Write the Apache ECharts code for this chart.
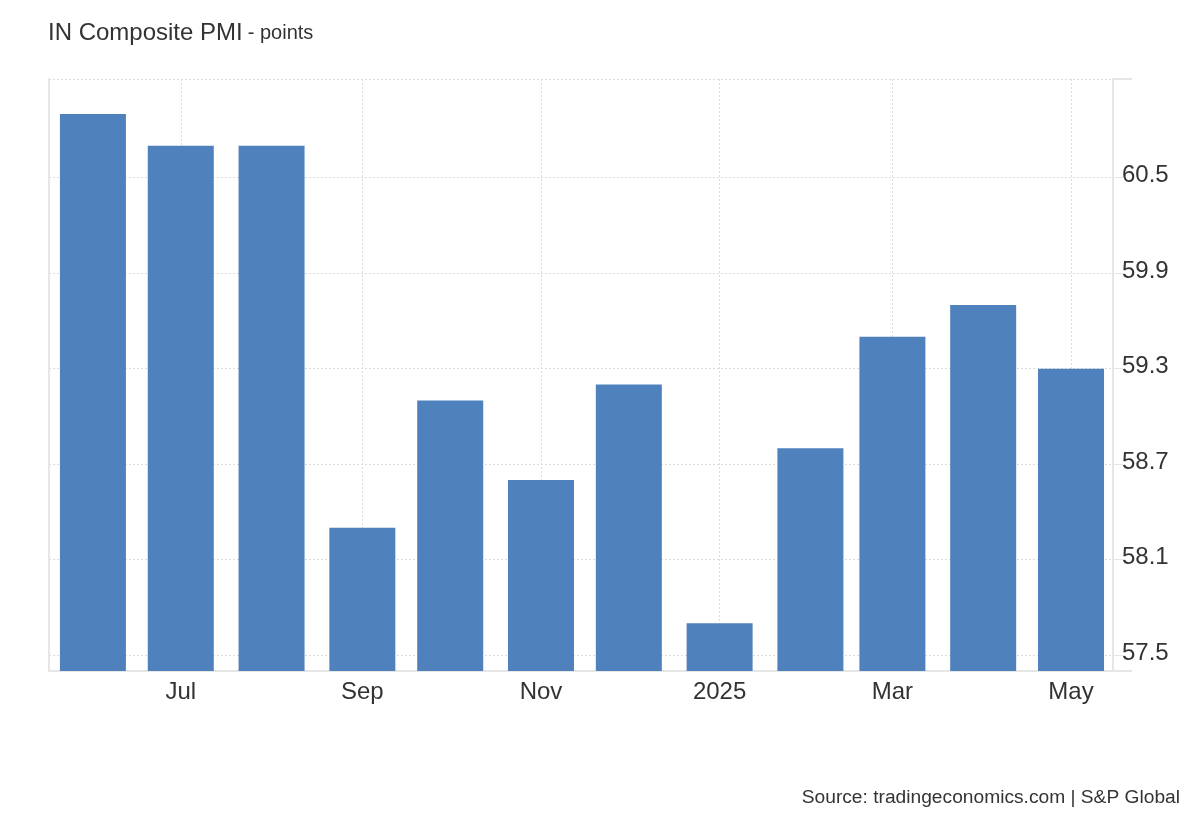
<!DOCTYPE html>
<html>
<head>
<meta charset="utf-8">
<script src="https://cdn.jsdelivr.net/npm/echarts@6/dist/echarts.min.js"></script>
<style>
html,body{margin:0;padding:0;background:#fff;}
#chart{width:1200px;height:820px;}
</style>
</head>
<body>
<div id="chart"></div>
<script>
// ---- data ----
var months = ['2024-06','2024-07','2024-08','2024-09','2024-10','2024-11','2024-12','2025-01','2025-02','2025-03','2025-04','2025-05'];
var pmiValues = [60.9, 60.7, 60.7, 58.3, 59.1, 58.6, 59.2, 57.7, 58.8, 59.5, 59.7, 59.3];
var xTickMonths = ['2024-07','2024-09','2024-11','2025-01','2025-03','2025-05'];
var xTickLabels = ['Jul','Sep','Nov','2025','Mar','May'];
var yTickLabels = [57.5, 58.1, 58.7, 59.3, 59.9, 60.5];
var yMin = 57.4, yMax = 61.12;
var yGridValues = yTickLabels.concat([yMax]);

function monthTs(s){ var p = s.split('-'); return Date.UTC(+p[0], +p[1]-1, 1); }
var xTickTs = xTickMonths.map(monthTs);
var labelByTs = {};
xTickTs.forEach(function(t,i){ labelByTs[t] = xTickLabels[i]; });
var barData = months.map(function(m,i){ return [monthTs(m), pmiValues[i]]; });

var xMin = Date.UTC(2024, 4, 17);
var xMax = Date.UTC(2025, 4, 15, 8);

var chart = echarts.init(document.getElementById('chart'), null, {renderer:'canvas'});
var FONT = 'Liberation Sans, Arial, sans-serif';
chart.setOption({
  animation: false,
  backgroundColor: '#ffffff',
  textStyle: { fontFamily: FONT },
  title: {
    left: 48, top: 21, padding: 0,
    text: '{a|IN Composite PMI} {b|- points}',
    textStyle: {
      fontWeight: 'normal',
      rich: {
        a: { fontSize: 24, color: '#333333', fontFamily: FONT, fontWeight: 'normal' },
        b: { fontSize: 20, color: '#333333', fontFamily: FONT, fontWeight: 'normal' }
      }
    }
  },
  graphic: [{
    type: 'text', right: 20, top: 788,
    style: { text: 'Source: tradingeconomics.com | S&P Global', font: '19.2px ' + FONT, fill: '#333333' }
  }],
  grid: { left: 49, right: 87, top: 79, bottom: 149, outerBoundsMode: 'none' },
  xAxis: {
    type: 'value', min: xMin, max: xMax, scale: true,
    axisLine: { show: true, lineStyle: { color: '#e6e6e6', width: 2 } },
    axisTick: { show: false, customValues: xTickTs },
    axisLabel: {
      customValues: xTickTs, fontSize: 24, color: '#333333', margin: 9,
      formatter: function(v){ return labelByTs[v] || ''; }
    },
    splitLine: { show: true, lineStyle: { color: '#dcdcdc', type: [2,2], width: 1 } }
  },
  yAxis: [{
    type: 'value', position: 'right', min: yMin, max: yMax,
    axisLine: { show: true, lineStyle: { color: '#e6e6e6', width: 2 } },
    axisTick: { show: true, customValues: yGridValues, length: 10, lineStyle: { color: '#e6e6e6', width: 1 } },
    axisLabel: {
      customValues: yTickLabels, fontSize: 24, color: '#333333', margin: 9,
      verticalAlign: 'bottom', lineHeight: 4,
      formatter: function(v){ return v.toFixed(1); }
    },
    splitLine: { show: true, lineStyle: { color: '#dcdcdc', type: [2,2], width: 1 } }
  }, {
    type: 'value', position: 'left', min: yMin, max: yMax,
    axisLine: { show: true, lineStyle: { color: '#e6e6e6', width: 2 } },
    axisTick: { show: false }, axisLabel: { show: false }, splitLine: { show: false }
  }, {
    type: 'value', position: 'right', min: yMin, max: yMax,
    axisLine: { show: false },
    axisTick: { show: true, customValues: [yMin, yMax], length: 19, lineStyle: { color: '#e6e6e6', width: 2 } },
    axisLabel: { show: false }, splitLine: { show: false }
  }],
  series: [{
    type: 'bar', yAxisIndex: 0,
    data: barData, barWidth: 66,
    itemStyle: { color: '#4f81bd' }
  }]
});
</script>
</body>
</html>
